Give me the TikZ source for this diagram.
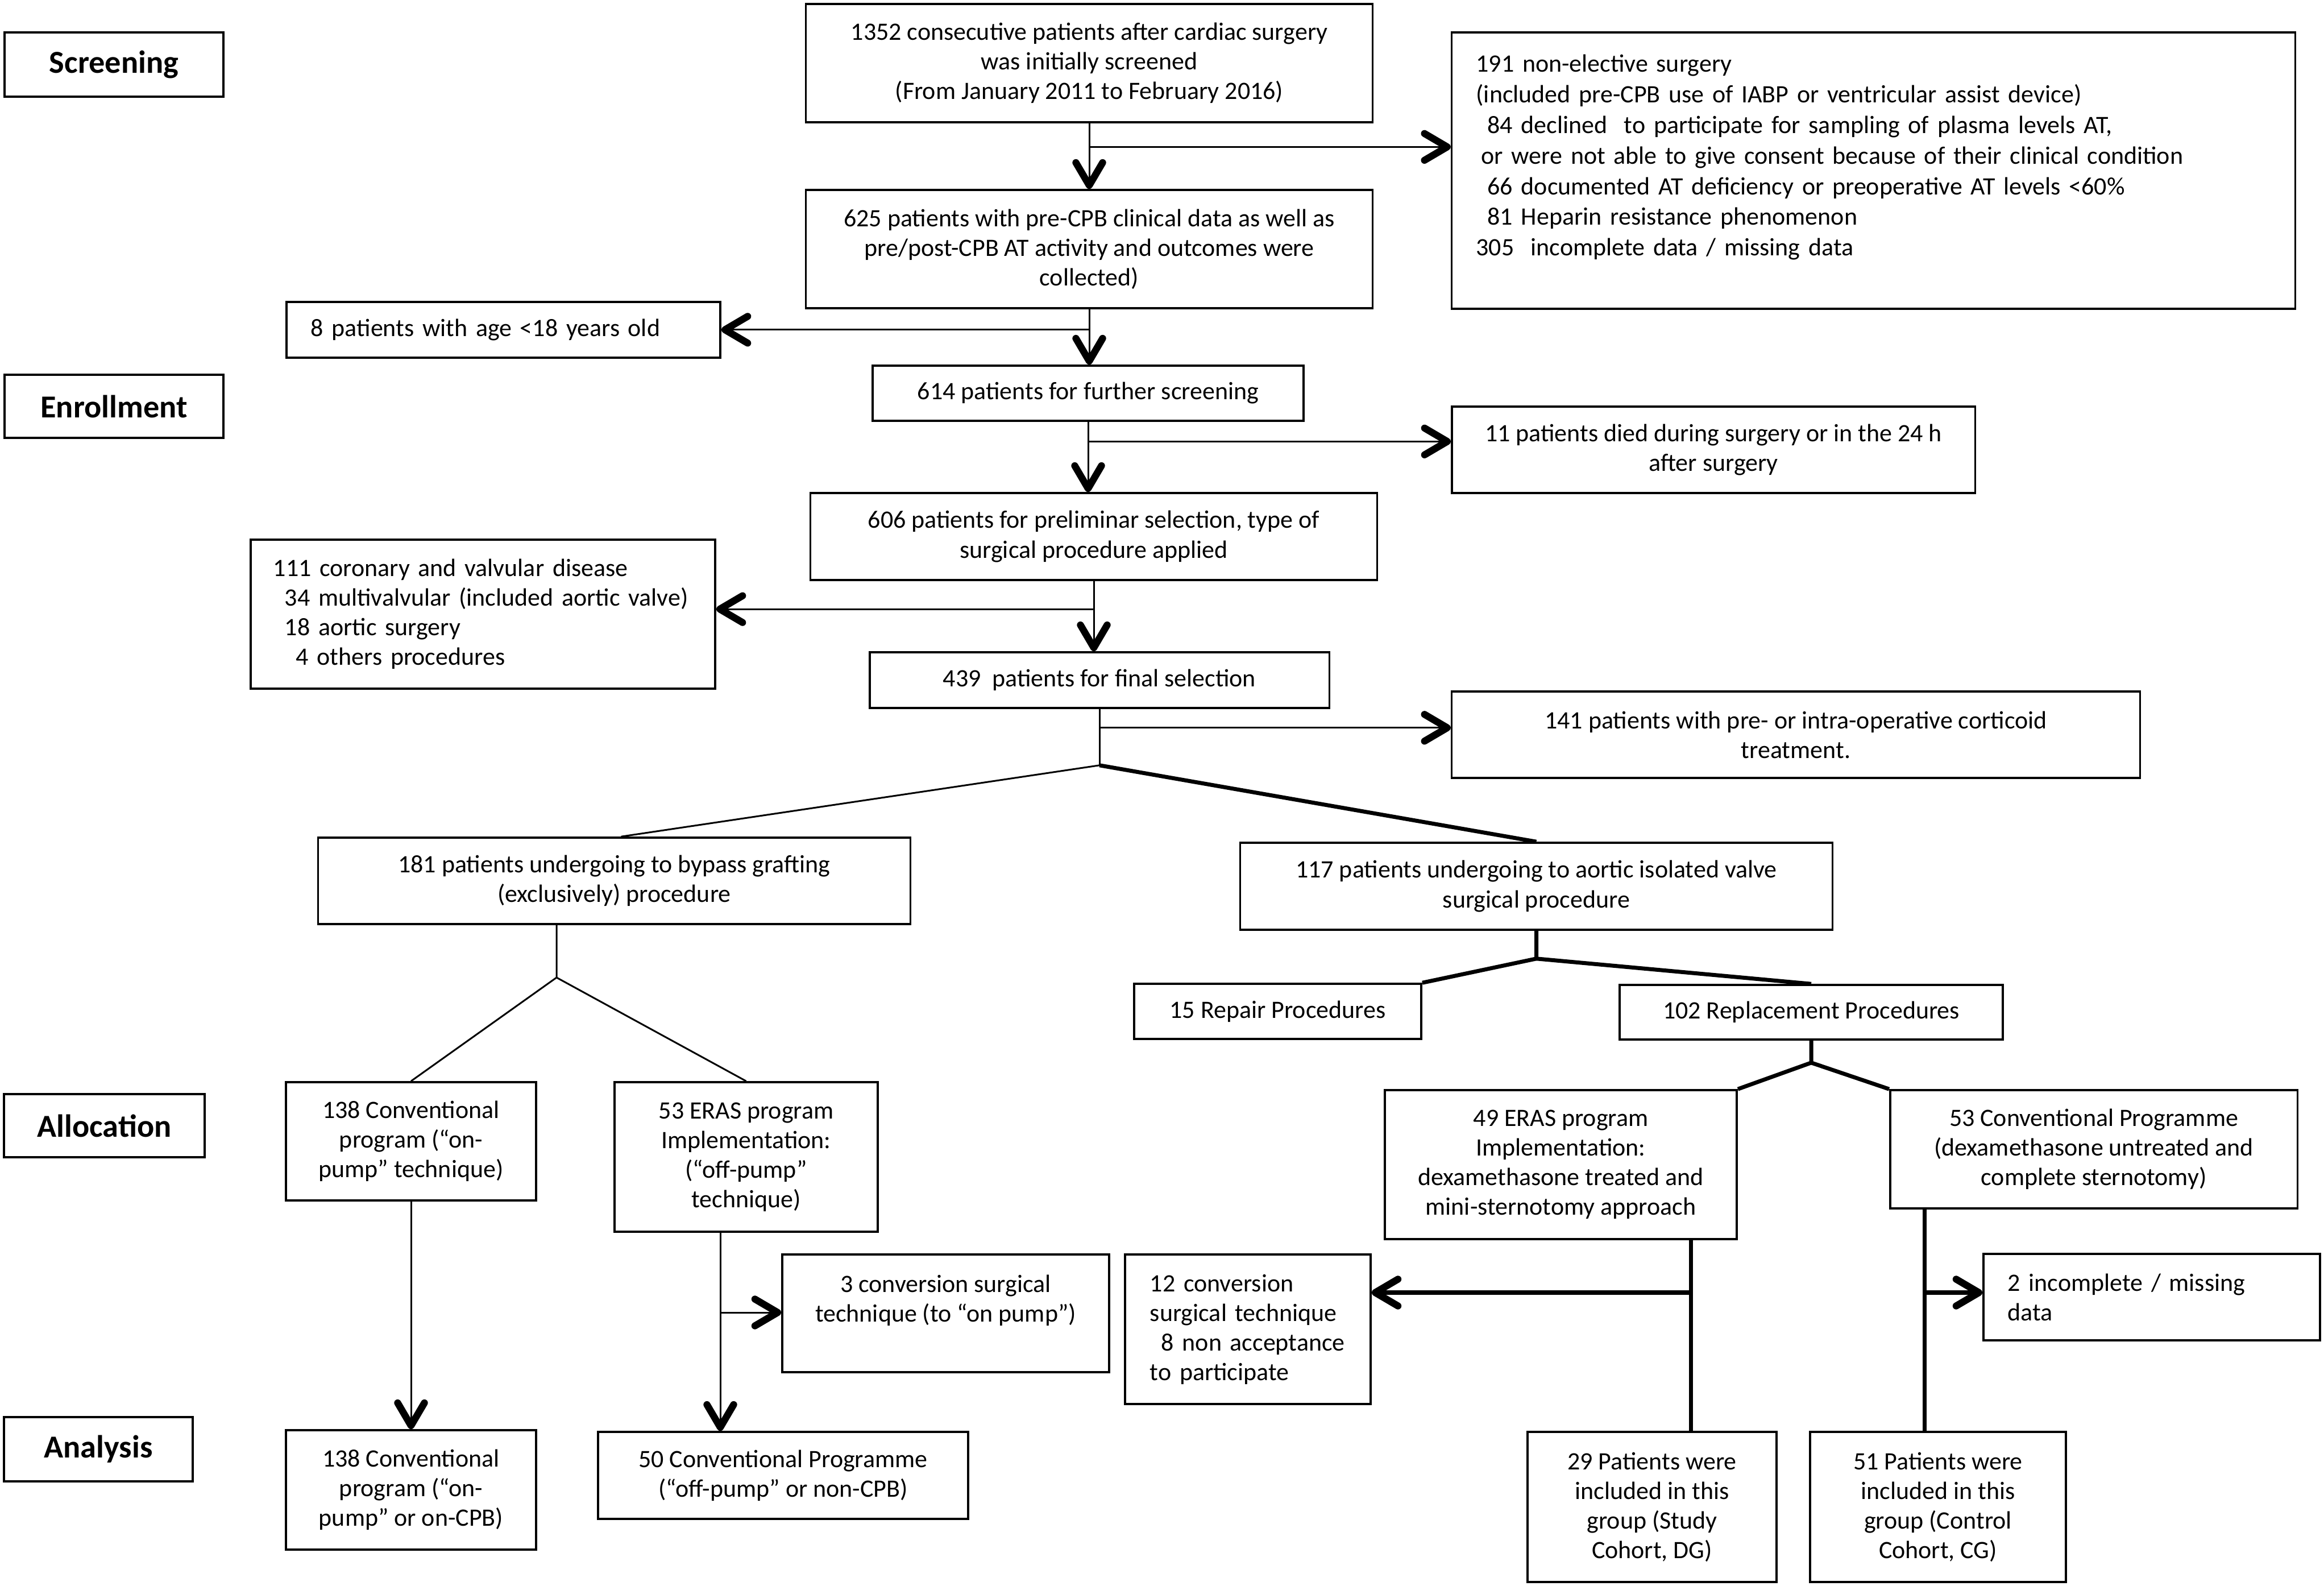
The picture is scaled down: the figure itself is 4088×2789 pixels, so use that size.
\documentclass[tikz,border=0pt]{standalone}
\usepackage{fontspec}
\setmainfont{Carlito}
\usetikzlibrary{positioning,calc,arrows.meta}
\tikzset{
  box/.style={draw, line width=1pt, inner sep=0pt, align=center, font=\fontsize{12.5pt}{14.8pt}\selectfont},
  lbox/.style={box, align=left},
  stage/.style={box, font=\fontsize{16pt}{19pt}\selectfont\bfseries},
  thinline/.style={line width=0.85pt},
  thickline/.style={line width=2pt},
  arr/.style={-{Straight Barb[length=4mm,width=4.7mm,line width=3.5pt,round]}},
}

\begin{document}
\begin{tikzpicture}[x=0.01cm,y=-0.01cm]
	\useasboundingbox (0,0) rectangle (4088,2789);
	% stages
	\node[stage, minimum width=3.85cm, minimum height=1.13cm] (scr) at (200.5,113.5) {Screening};
	\node[stage, minimum width=3.85cm, minimum height=1.11cm] (enr) at (200.5,714.5) {Enrollment};
	\node[stage, minimum width=3.53cm, minimum height=1.11cm] (alc) at (183.5,1979.5) {Allocation};
	\node[stage, minimum width=3.32cm, minimum height=1.13cm] (ana) at (173,2548.5) {Analysis};
	% main column
	\node[box, minimum width=9.96cm, minimum height=2.08cm] (n1352) at (1916,111) {1352 consecutive patients after cardiac surgery\\was initially screened\\(From January 2011 to February 2016)};
	\node[lbox, text width=13.97cm, inner xsep=0.43cm, minimum height=4.86cm, font=\fontsize{12.5pt}{15.3pt}\selectfont] (n191) at (3295.5,300) {191 non-elective surgery\\(included pre-CPB use of IABP or ventricular assist device)\\\hspace*{0.2cm}84 declined\ \ to participate for sampling of plasma levels AT,\\\hspace*{0.09cm}or were not able to give consent because of their clinical condition\\\hspace*{0.2cm}66 documented AT deficiency or preoperative AT levels <60\%\\\hspace*{0.2cm}81 Heparin resistance phenomenon\\305\ \ incomplete data / missing data\\\mbox{}};
	\node[box, minimum width=9.96cm, minimum height=2.08cm] (n625) at (1916,438) {625 patients with pre-CPB clinical data as well as\\pre/post-CPB AT activity and outcomes were\\collected)};
	\node[lbox, text width=6.77cm, inner xsep=0.43cm, minimum height=0.98cm] (n8) at (885.5,580) {8 patients with age <18 years old};
	\node[box, minimum width=7.58cm, minimum height=0.97cm] (n614) at (1914,691.5) {614 patients for further screening};
	\node[box, minimum width=9.20cm, minimum height=1.52cm] (n11) at (3014,791) {11 patients died during surgery or in the 24 h\\after surgery};
	\node[box, minimum width=9.96cm, minimum height=1.53cm] (n606) at (1924,943.5) {606 patients for preliminar selection, type of\\surgical procedure applied};
	\node[lbox, text width=7.37cm, inner xsep=0.40cm, minimum height=2.62cm] (n111) at (849.5,1080) {111 coronary and valvular disease\\\hspace*{0.2cm}34 multivalvular (included aortic valve)\\\hspace*{0.2cm}18 aortic surgery\\\hspace*{0.4cm}4 others procedures};
	\node[box, minimum width=8.08cm, minimum height=0.98cm] (n439) at (1934,1196) {439\ \ patients for final selection};
	\node[box, minimum width=12.10cm, minimum height=1.52cm] (n141) at (3159,1292) {141 patients with pre- or intra-operative corticoid\\treatment.};
	% bypass branch
	\node[box, minimum width=10.41cm, minimum height=1.52cm] (n181) at (1080.5,1549) {181 patients undergoing to bypass grafting\\(exclusively) procedure};
	\node[box, minimum width=4.40cm, minimum height=2.08cm] (n138a) at (723,2007) {138 Conventional\\program (“on-\\pump” technique)};
	\node[box, minimum width=4.63cm, minimum height=2.63cm] (n53a) at (1312.5,2034.5) {53 ERAS program\\Implementation:\\(“off-pump”\\technique)};
	\node[box, minimum width=5.75cm, minimum height=2.07cm] (n3) at (1663.5,2309.5) {3 conversion surgical\\technique (to “on pump”)\\\mbox{}};
	\node[box, minimum width=4.40cm, minimum height=2.10cm] (n138b) at (723,2620) {138 Conventional\\program (“on-\\pump” or on-CPB)};
	\node[box, minimum width=6.51cm, minimum height=1.53cm] (n50) at (1377.5,2594.5) {50 Conventional Programme\\(“off-pump” or non-CPB)};
	% valve branch
	\node[box, minimum width=10.41cm, minimum height=1.53cm] (n117) at (2702.5,1558.5) {117 patients undergoing to aortic isolated valve\\surgical procedure};
	\node[box, minimum width=5.05cm, minimum height=0.97cm] (n15) at (2247.5,1778.5) {15 Repair Procedures};
	\node[box, minimum width=6.74cm, minimum height=0.96cm] (n102) at (3186,1780) {102 Replacement Procedures};
	\node[box, minimum width=6.19cm, minimum height=2.62cm] (n49) at (2745.5,2048) {49 ERAS program\\Implementation:\\dexamethasone treated and\\mini-sternotomy approach};
	\node[box, minimum width=7.16cm, minimum height=2.08cm] (n53b) at (3683,2021) {53 Conventional Programme\\(dexamethasone untreated and\\complete sternotomy)};
	\node[lbox, text width=3.44cm, inner xsep=0.44cm, minimum height=2.63cm] (n12) at (2195,2337.5) {12 conversion\\surgical technique\\\hspace*{0.2cm}8 non acceptance\\to participate};
	\node[lbox, text width=5.06cm, inner xsep=0.43cm, minimum height=1.52cm] (n2) at (3785,2281) {2 incomplete / missing\\data};
	\node[box, minimum width=4.38cm, minimum height=2.64cm] (n29) at (2906,2650) {29 Patients were\\included in this\\group (Study\\Cohort, DG)};
	\node[box, minimum width=4.50cm, minimum height=2.64cm] (n51) at (3409,2650) {51 Patients were\\included in this\\group (Control\\Cohort, CG)};

	% junctions
	\coordinate (j1) at ($(n1352.south)!0.36!(n1352.south |- n625.north)$);
	\coordinate (j2) at ($(n625.south)!0.37!(n625.south |- n614.north)$);
	\coordinate (j3) at ($(n614.south)!0.28!(n614.south |- n606.north)$);
	\coordinate (j4) at ($(n606.south)!0.40!(n606.south |- n439.north)$);
	\coordinate (j5) at ($(n439.south)+(0,33)$);
	\coordinate (j6) at ($(n439.south)+(0,99)$);
	\coordinate (j7) at (979,1719);
	\coordinate (j8) at ($(n117.south)+(0,49)$);
	\coordinate (j9) at ($(n102.south)+(0,39)$);
	\coordinate (j10) at (1267,2308);
	\coordinate (j11) at (2974,2273);
	\coordinate (j12) at (3385,2273);

	% screening and selection
	\draw [thinline, arr] (n1352.south) to (n1352.south |- n625.north);
	\draw [thinline, arr] (j1) to (j1 -| n191.west);
	\draw [thinline, arr] (n625.south) to (n625.south |- n614.north);
	\draw [thinline, arr] (j2) to (j2 -| n8.east);
	\draw [thinline, arr] (n614.south) to (n614.south |- n606.north);
	\draw [thinline, arr] (j3) to (j3 -| n11.west);
	\draw [thinline, arr] (n606.south) to (n606.south |- n439.north);
	\draw [thinline, arr] (j4) to (j4 -| n111.east);
	\draw [thinline] (n439.south) to (j6);
	\draw [thinline, arr] (j5) to (j5 -| n141.west);
	\draw [thinline] (j6) to ($(n181.north)+(12,0)$);
	\draw [thickline] (j6) to (n117.north);

	% bypass branch
	\draw [thinline] (n181.south -| j7) -- (j7) -- (n138a.north);
	\draw [thinline] (j7) to (n53a.north);
	\draw [thinline, arr] (n138a) to (n138b);
	\draw [thinline, arr] (j10 |- n53a.south) to (j10 |- n50.north);
	\draw [thinline, arr] (j10) to (j10 -| n3.west);

	% valve branch
	\draw [thickline] (n117.south) -- (j8) -- (n15.north east);
	\draw [thickline] (j8) to (n102.north);
	\draw [thickline] (n102.south) -- (j9) -- (n49.north east);
	\draw [thickline] (j9) to (n53b.north west);
	\draw [thickline] (j11 |- n49.south) to (j11 |- n29.north);
	\draw [thickline, arr] (j11) to (j11 -| n12.east);
	\draw [thickline] (j12 |- n53b.south) to (j12 |- n51.north);
	\draw [thickline, arr] (j12) to (j12 -| n2.west);
\end{tikzpicture}
\end{document}
